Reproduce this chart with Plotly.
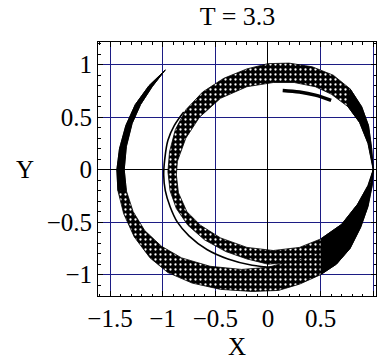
import plotly.graph_objects as go

# ---- outer arm (left arc sweeping round the bottom to the tip at (1, 0)) ----
arm_out_x = [-0.975, -1.13, -1.26, -1.35, -1.41, -1.435, -1.425, -1.37, -1.27, -1.12,
             -0.95, -0.72, -0.45, -0.15, 0.10, 0.30, 0.50, 0.65, 0.78, 0.88, 0.95, 0.99, 1.00]
arm_out_y = [0.95, 0.80, 0.62, 0.42, 0.20, 0.00, -0.20, -0.42, -0.64, -0.84,
             -0.98, -1.08, -1.14, -1.16, -1.15, -1.09, -1.00, -0.90, -0.75, -0.55, -0.35, -0.15, 0.00]
arm_in_x = [-0.975, -1.10, -1.21, -1.29, -1.345, -1.365, -1.345, -1.28, -1.17, -1.01,
            -0.82, -0.55, -0.25, 0.00, 0.25, 0.50, 0.75, 0.90, 0.98, 1.00]
arm_in_y = [0.95, 0.79, 0.62, 0.44, 0.22, 0.00, -0.20, -0.40, -0.58, -0.73,
            -0.84, -0.92, -0.95, -0.93, -0.86, -0.74, -0.52, -0.30, -0.12, 0.00]

# ---- inner ring (starts and ends at the tip (1, 0)) ----
ring_out_x = [1.00, 0.985, 0.955, 0.89, 0.78, 0.62, 0.42, 0.20, 0.00, -0.20, -0.42, -0.62,
              -0.78, -0.88, -0.935, -0.95, -0.93, -0.87, -0.76, -0.60, -0.40, -0.20, 0.00,
              0.25, 0.50, 0.70, 0.85, 0.95, 1.00]
ring_out_y = [0.00, 0.20, 0.42, 0.60, 0.77, 0.90, 0.98, 1.015, 1.01, 0.96, 0.87, 0.74,
              0.57, 0.38, 0.17, -0.02, -0.20, -0.37, -0.53, -0.67, -0.78, -0.85, -0.90,
              -0.88, -0.78, -0.60, -0.40, -0.20, 0.00]
ring_in_x = [1.00, 0.95, 0.87, 0.76, 0.60, 0.45, 0.25, 0.05, -0.20, -0.45, -0.65, -0.78,
             -0.86, -0.87, -0.85, -0.77, -0.64, -0.45, -0.20, 0.05, 0.30, 0.50, 0.70, 0.85,
             0.95, 1.00]
ring_in_y = [0.00, 0.25, 0.45, 0.60, 0.72, 0.79, 0.83, 0.83, 0.79, 0.68, 0.50, 0.30,
             0.08, -0.05, -0.22, -0.40, -0.53, -0.65, -0.74, -0.77, -0.74, -0.66, -0.52, -0.33,
             -0.15, 0.00]

# ---- thin filament outside the ring on the left ----
fil_x = [-0.80, -0.89, -0.95, -0.98, -0.99, -0.975, -0.93, -0.86, -0.75, -0.58, -0.38, -0.15, 0.05]
fil_y = [0.55, 0.42, 0.28, 0.10, -0.05, -0.20, -0.35, -0.50, -0.63, -0.76, -0.85, -0.91, -0.93]

# ---- short strand on the inside of the ring, upper right ----
strand_x = [0.14, 0.30, 0.45, 0.60]
strand_y = [0.755, 0.74, 0.71, 0.66]

x_ticks = [-1.5, -1.0, -0.5, 0.0, 0.5, 1.0]
x_tick_text = ["−1.5", "−1", "−0.5", "0", "0.5", "1"]
y_ticks = [-1.0, -0.5, 0.0, 0.5, 1.0]
y_tick_text = ["−1", "−0.5", "0", "0.5", "1"]

SERIF = "Liberation Serif"
speckle = dict(shape=".", bgcolor="black", fgcolor="white", fgopacity=1, size=5, solidity=0.17)


def band(ox, oy, ix, iy):
    """Closed outline: outer edge forward, inner edge back."""
    return list(ox) + list(ix)[::-1], list(oy) + list(iy)[::-1]


def add_band(fig, xs, ys, speckled):
    kw = dict(fillpattern=speckle) if speckled else {}
    fig.add_trace(go.Scatter(x=xs, y=ys, mode="lines", fill="toself", fillcolor="black",
                             line=dict(color="black", width=0.8), hoverinfo="skip", **kw))


fig = go.Figure()

# speckled bodies of the two bands
add_band(fig, *band(arm_out_x, arm_out_y, arm_in_x, arm_in_y), speckled=True)
add_band(fig, *band(ring_out_x, ring_out_y, ring_in_x, ring_in_y), speckled=True)

# densely filled parts: upper arm and the right-hand side where the bands pinch together
add_band(fig, *band(arm_out_x[:7], arm_out_y[:7], arm_in_x[:7], arm_in_y[:7]), speckled=False)
add_band(fig, *band(arm_out_x[16:], arm_out_y[16:], arm_in_x[15:], arm_in_y[15:]), speckled=False)
add_band(fig, *band(ring_out_x[24:] + ring_out_x[1:5], ring_out_y[24:] + ring_out_y[1:5],
                    ring_in_x[21:] + ring_in_x[1:4], ring_in_y[21:] + ring_in_y[1:4]), speckled=False)

fig.add_trace(go.Scatter(x=fil_x, y=fil_y, mode="lines", line=dict(color="black", width=1.6),
                         line_shape="spline", hoverinfo="skip"))
fig.add_trace(go.Scatter(x=strand_x, y=strand_y, mode="lines", line=dict(color="black", width=3.5),
                         line_shape="spline", hoverinfo="skip"))

axis_common = dict(
    showgrid=True, gridcolor="#1c1c84", gridwidth=1,
    zeroline=True, zerolinecolor="black", zerolinewidth=1,
    showline=True, linecolor="black", linewidth=1, mirror="ticks",
    ticks="inside", ticklen=5, tickcolor="black",
    minor=dict(ticks="inside", ticklen=2.5, dtick=0.1, tickcolor="black", showgrid=False),
    tickfont=dict(family=SERIF, size=25, color="black"),
)

fig.update_xaxes(range=[-1.614, 1.026], tickvals=x_ticks, ticktext=x_tick_text, **axis_common)
fig.update_yaxes(range=[-1.203, 1.216], tickvals=y_ticks, ticktext=y_tick_text, **axis_common)

fig.update_layout(
    width=377, height=359,
    margin=dict(l=98, r=1, t=42, b=63),
    paper_bgcolor="white", plot_bgcolor="white",
    showlegend=False,
    title=dict(text="T = 3.3", x=0.63, xanchor="center", y=0.955, yanchor="middle",
               font=dict(family=SERIF, size=26, color="black")),
    annotations=[
        dict(text="X", x=0.50, y=-0.20, xref="paper", yref="paper", xanchor="center", yanchor="middle",
             showarrow=False, font=dict(family=SERIF, size=25, color="black")),
        dict(text="Y", x=-0.263, y=0.497, xref="paper", yref="paper", xanchor="center", yanchor="middle",
             showarrow=False, font=dict(family=SERIF, size=25, color="black")),
    ],
)

fig.write_html("out.html")
